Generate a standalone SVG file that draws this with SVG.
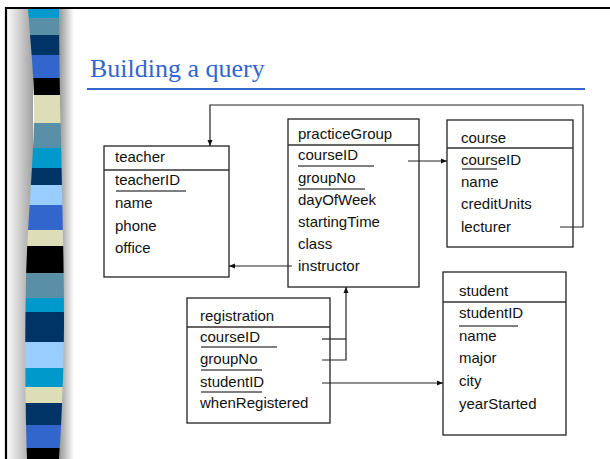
<svg xmlns="http://www.w3.org/2000/svg" width="610" height="459" viewBox="0 0 610 459">
  <style>
    .box { fill: #ffffff; stroke: #222222; stroke-width: 1.3; }
    .sep { stroke: #333333; stroke-width: 1.3; }
    .ul { stroke: #555555; stroke-width: 1.5; }
    .t { font-family: "Liberation Sans", Arial, sans-serif; font-size: 15px; fill: #111111; }
    .conn { fill: none; stroke: #222222; stroke-width: 1.2; }
  </style>
  <defs>
    <marker id="arr" markerWidth="6" markerHeight="6" refX="6" refY="3" orient="auto" markerUnits="userSpaceOnUse">
      <path d="M0,0.5 L6,3 L0,5.5 Z" fill="#111111"/>
    </marker>
    <linearGradient id="shadeL" x1="0" y1="0" x2="1" y2="0">
      <stop offset="0" stop-color="#fbfbfb"/>
      <stop offset="1" stop-color="#a0a0a0"/>
    </linearGradient>
    <linearGradient id="shadeR" x1="0" y1="0" x2="1" y2="0">
      <stop offset="0" stop-color="#808080"/>
      <stop offset="1" stop-color="#ffffff"/>
    </linearGradient>
    <clipPath id="stripeClip">
      <path d="M28,8 C30,40 35,80 34,120 C33,170 27,230 26,280 C25,330 25,400 27,459 L59,459 C62,420 64,360 64,320 C64,260 62,200 61,140 C60,100 59,50 59,8 Z"/>
    </clipPath>
  </defs>

  <rect x="0" y="0" width="610" height="459" fill="#ffffff"/>

  <!-- left decorative stripe -->
  <g id="stripe">
    <rect x="7" y="8" width="26" height="451" fill="url(#shadeL)"/>
    <rect x="56" y="8" width="18" height="451" fill="url(#shadeR)"/>
    <g clip-path="url(#stripeClip)">
      <rect x="20" y="8" width="50" height="10" fill="#0099CC"/>
      <rect x="20" y="18" width="50" height="17" fill="#5A8FA8"/>
      <rect x="20" y="35" width="50" height="20" fill="#003366"/>
      <rect x="20" y="55" width="50" height="23" fill="#3366CC"/>
      <rect x="20" y="78" width="50" height="17" fill="#000000"/>
      <rect x="20" y="95" width="50" height="28" fill="#DDDDB8"/>
      <rect x="20" y="123" width="50" height="25" fill="#5A8FA8"/>
      <rect x="20" y="148" width="50" height="20" fill="#0099CC"/>
      <rect x="20" y="168" width="50" height="17" fill="#003366"/>
      <rect x="20" y="185" width="50" height="20" fill="#99CCFF"/>
      <rect x="20" y="205" width="50" height="25" fill="#3366CC"/>
      <rect x="20" y="230" width="50" height="16" fill="#DDDDB8"/>
      <rect x="20" y="246" width="50" height="27" fill="#000000"/>
      <rect x="20" y="273" width="50" height="25" fill="#5A8FA8"/>
      <rect x="20" y="298" width="50" height="14" fill="#0099CC"/>
      <rect x="20" y="312" width="50" height="30" fill="#003366"/>
      <rect x="20" y="342" width="50" height="26" fill="#99CCFF"/>
      <rect x="20" y="368" width="50" height="19" fill="#0099CC"/>
      <rect x="20" y="387" width="50" height="16" fill="#DDDDB8"/>
      <rect x="20" y="403" width="50" height="22" fill="#003366"/>
      <rect x="20" y="425" width="50" height="23" fill="#3366CC"/>
      <rect x="20" y="448" width="50" height="11" fill="#000000"/>
    </g>
  </g>

  <!-- slide frame -->
  <path d="M6,470 L6,8 L620,8" fill="none" stroke="#000000" stroke-width="2.2"/>

  <!-- title -->
  <text x="90" y="77" font-family="'Liberation Serif', 'Times New Roman', serif" font-size="26" fill="#3366CC">Building a query</text>
  <line x1="87" y1="89" x2="585" y2="89" stroke="#3366CC" stroke-width="2.2"/>

  <!-- teacher -->
  <g id="teacher">
    <rect class="box" x="104" y="146" width="125" height="131"/>
    <line class="sep" x1="104" y1="170" x2="229" y2="170"/>
    <text class="t" x="115" y="162">teacher</text>
    <text class="t" x="115" y="185">teacherID</text>
    <line class="ul" x1="116" y1="191" x2="186" y2="191"/>
    <text class="t" x="115" y="208">name</text>
    <text class="t" x="115" y="231">phone</text>
    <text class="t" x="115" y="253">office</text>
  </g>

  <!-- practiceGroup -->
  <g id="practiceGroup">
    <rect class="box" x="288" y="119" width="131" height="168"/>
    <line class="sep" x1="288" y1="145" x2="419" y2="145"/>
    <text class="t" x="298" y="139">practiceGroup</text>
    <text class="t" x="298" y="160">courseID</text>
    <line class="ul" x1="298" y1="166" x2="374" y2="166"/>
    <text class="t" x="298" y="183">groupNo</text>
    <line class="ul" x1="298" y1="189" x2="365" y2="189"/>
    <text class="t" x="298" y="205">dayOfWeek</text>
    <text class="t" x="298" y="227">startingTime</text>
    <text class="t" x="298" y="249">class</text>
    <text class="t" x="298" y="271">instructor</text>
  </g>

  <!-- course -->
  <g id="course">
    <rect class="box" x="447" y="120" width="126" height="127"/>
    <line class="sep" x1="447" y1="148" x2="573" y2="148"/>
    <text class="t" x="461" y="143">course</text>
    <text class="t" x="461" y="165">courseID</text>
    <line class="ul" x1="462" y1="169" x2="497" y2="169"/>
    <text class="t" x="461" y="187">name</text>
    <text class="t" x="461" y="209">creditUnits</text>
    <text class="t" x="461" y="232">lecturer</text>
  </g>

  <!-- registration -->
  <g id="registration">
    <rect class="box" x="187" y="298" width="143" height="125"/>
    <line class="sep" x1="187" y1="327" x2="330" y2="327"/>
    <text class="t" x="200" y="321">registration</text>
    <text class="t" x="200" y="342">courseID</text>
    <line class="ul" x1="201" y1="347" x2="277" y2="347"/>
    <text class="t" x="200" y="364">groupNo</text>
    <line class="ul" x1="201" y1="370" x2="262" y2="370"/>
    <text class="t" x="200" y="387">studentID</text>
    <line class="ul" x1="201" y1="392" x2="262" y2="392"/>
    <text class="t" x="200" y="408">whenRegistered</text>
  </g>

  <!-- student -->
  <g id="student">
    <rect class="box" x="443" y="272" width="123" height="163"/>
    <line class="sep" x1="443" y1="302" x2="566" y2="302"/>
    <text class="t" x="459" y="296">student</text>
    <text class="t" x="459" y="318">studentID</text>
    <line class="ul" x1="459" y1="326" x2="518" y2="326"/>
    <text class="t" x="459" y="341">name</text>
    <text class="t" x="459" y="363">major</text>
    <text class="t" x="459" y="386">city</text>
    <text class="t" x="459" y="409">yearStarted</text>
  </g>

  <!-- connectors -->
  <g id="connectors">
    <polyline class="conn" points="560,227 583,227 583,105 210,105 210,146" marker-end="url(#arr)"/>
    <line class="conn" x1="408" y1="161" x2="447" y2="161" marker-end="url(#arr)"/>
    <line class="conn" x1="292" y1="266" x2="229" y2="266" marker-end="url(#arr)"/>
    <line class="conn" x1="322" y1="339" x2="346" y2="339"/>
    <polyline class="conn" points="322,360 346,360 346,287" marker-end="url(#arr)"/>
    <line class="conn" x1="322" y1="383" x2="443" y2="383" marker-end="url(#arr)"/>
  </g>
</svg>
